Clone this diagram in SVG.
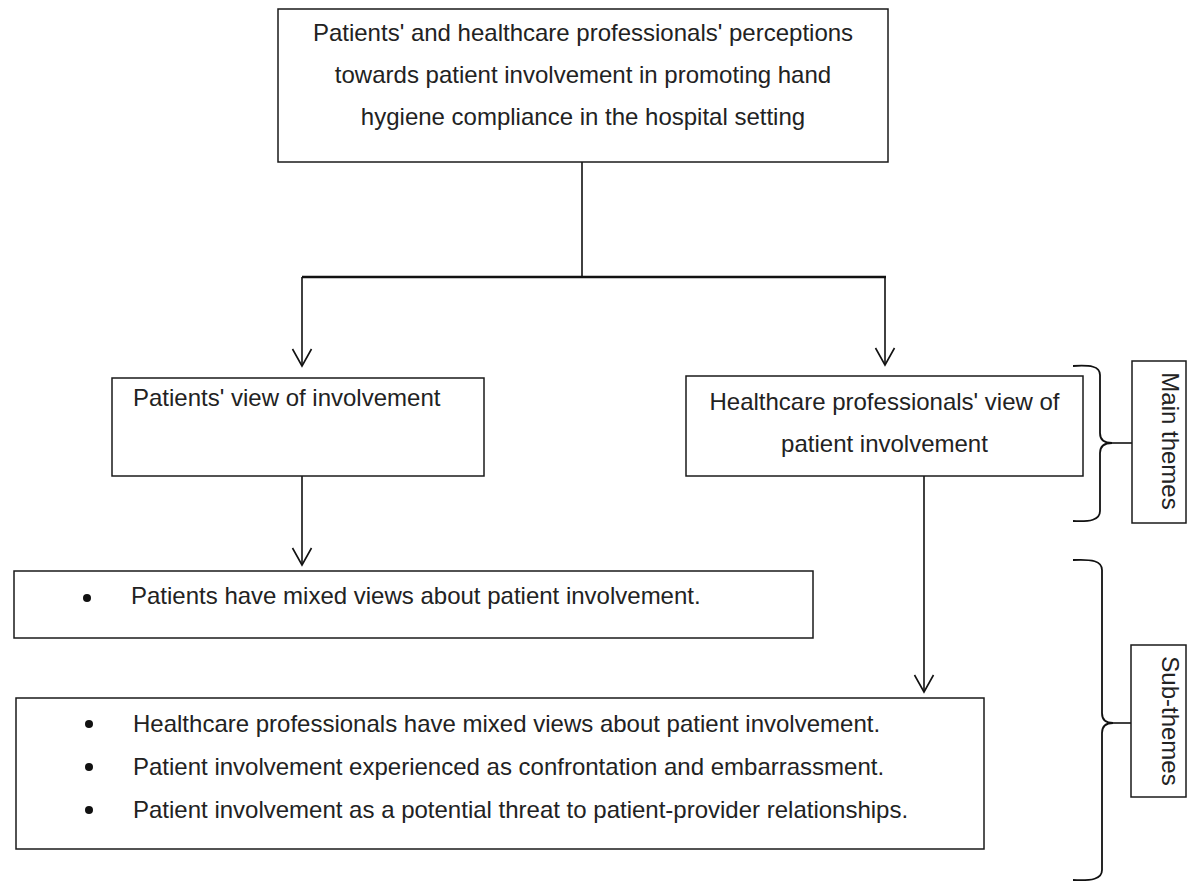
<svg xmlns="http://www.w3.org/2000/svg" width="1187" height="884" viewBox="0 0 1187 884">
<style>
.box{fill:#fff;stroke:#1a1a1a;stroke-width:1.5}
.t{font-family:"Liberation Sans",Arial,sans-serif;font-size:24px;fill:#222}
.c{text-anchor:middle}
.ln{fill:none;stroke:#111;stroke-width:1.6}
.br{fill:none;stroke:#111;stroke-width:1.8}
.bul{fill:#111}
</style>
<defs>
<marker id="ah" markerUnits="userSpaceOnUse" markerWidth="40" markerHeight="40" viewBox="-20 -20 40 40" refX="0" refY="0" orient="auto" overflow="visible">
<path d="M-17,-9.5 L0,0 L-17,9.5" fill="none" stroke="#111" stroke-width="1.6"/>
</marker>
</defs>
<rect width="1187" height="884" fill="#fff"/>
<g id="connectors">
<line class="ln" x1="582" y1="162" x2="582" y2="277"/>
<line x1="302" y1="277" x2="886" y2="277" stroke="#111" stroke-width="2.6"/>
<line class="ln" x1="302" y1="277" x2="302" y2="366" marker-end="url(#ah)"/>
<line class="ln" x1="885" y1="277" x2="885" y2="365" marker-end="url(#ah)"/>
<line class="ln" x1="302" y1="476" x2="302" y2="565" marker-end="url(#ah)"/>
<line class="ln" x1="924" y1="476" x2="924" y2="692" marker-end="url(#ah)"/>
</g>
<g id="top">
<rect class="box" x="278" y="9" width="610" height="153"/>
<text class="t c" x="583" y="41">Patients' and healthcare professionals' perceptions</text>
<text class="t c" x="583" y="83">towards patient involvement in promoting hand</text>
<text class="t c" x="583" y="125">hygiene compliance in the hospital setting</text>
</g>
<g id="patients-view">
<rect class="box" x="112" y="378" width="372" height="98"/>
<text class="t" x="133" y="406">Patients' view of involvement</text>
</g>
<g id="hcp-view">
<rect class="box" x="686" y="376" width="397" height="100"/>
<text class="t c" x="884.5" y="410">Healthcare professionals' view of</text>
<text class="t c" x="884.5" y="452">patient involvement</text>
</g>
<g id="patients-sub">
<rect class="box" x="14" y="571" width="799" height="67"/>
<circle class="bul" cx="87" cy="598" r="4"/>
<text class="t" x="131" y="604">Patients have mixed views about patient involvement.</text>
</g>
<g id="hcp-sub">
<rect class="box" x="16" y="698" width="968" height="151"/>
<circle class="bul" cx="89" cy="724" r="4"/>
<text class="t" x="133" y="732">Healthcare professionals have mixed views about patient involvement.</text>
<circle class="bul" cx="89" cy="767" r="4"/>
<text class="t" x="133" y="775">Patient involvement experienced as confrontation and embarrassment.</text>
<circle class="bul" cx="89" cy="810" r="4"/>
<text class="t" x="133" y="818">Patient involvement as a potential threat to patient-provider relationships.</text>
</g>
<g id="main-themes">
<path class="br" d="M1073,366 C1090,365 1100,366 1100,375 L1100,433 C1100,440 1104,443 1112,443 C1104,443 1100,446 1100,453 L1100,511 C1100,520 1090,522 1073,521"/>
<line class="ln" x1="1110" y1="443" x2="1132" y2="443"/>
<rect class="box" x="1132" y="361" width="54" height="162"/>
<text class="t c" transform="translate(1162,441) rotate(90)" x="0" y="0">Main themes</text>
</g>
<g id="sub-themes">
<path class="br" d="M1073,560 C1092,559 1102,561 1102,570 L1102,713 C1102,720 1106,723 1113,723 C1106,723 1102,726 1102,733 L1102,870 C1102,879 1092,881 1073,880"/>
<line class="ln" x1="1111" y1="723" x2="1131" y2="723"/>
<rect class="box" x="1131" y="645" width="55" height="152"/>
<text class="t c" transform="translate(1162,721) rotate(90)" x="0" y="0">Sub-themes</text>
</g>
</svg>
